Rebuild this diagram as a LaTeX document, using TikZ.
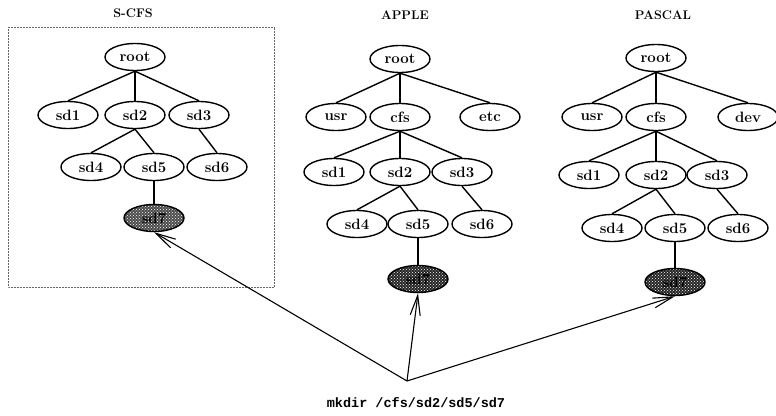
\documentclass[tikz,border=0pt]{standalone}
\usepackage{fontspec}
\setmonofont{Liberation Mono}
\usetikzlibrary{shapes.geometric,positioning,patterns,arrows.meta}

\begin{document}
\begin{tikzpicture}[x=1pt,y=-1pt,line width=1.4pt,node distance=55pt and 64pt,on grid,
  dir node/.style={ellipse,draw,minimum width=60pt,minimum height=27pt,inner sep=0pt,
    font=\fontsize{15}{17}\selectfont\bfseries},
  new node/.style={dir node,preaction={fill=black!85},pattern=crosshatch dots,pattern color=white},
  tree title/.style={font=\fontsize{12.5}{14}\selectfont\bfseries},
  cmd arrow/.style={line width=1.1pt,-{Straight Barb[length=20pt,width=10pt]}}]

  \useasboundingbox (0,0) rectangle (776,415);

  % S-CFS
  \node[tree title] (t1) at (133,13) {S-CFS};
  \draw[line width=0.5pt,black!60,densely dotted] (8,27) rectangle (274,287);
  \node[dir node] (s1) at (135,57) {root};
  \node[dir node] (s3) [below=58pt of s1] {sd2};
  \node[dir node] (s2) [left=67pt of s3] {sd1};
  \node[dir node] (s4) [right=of s3] {sd3};
  \node[dir node] (s6) [below right=52pt and 19pt of s3] {sd5};
  \node[dir node] (s5) [left=63pt of s6] {sd4};
  \node[dir node] (s7) [right=63pt of s6] {sd6};
  \node[new node,preaction={fill=black!70}] (s8) [below=51pt of s6] {sd7};

  \path (s1.south) edge (s2.north) edge (s3.north) edge (s4.north)
        (s3.south) edge (s5.north) edge (s6.north)
        (s4.south) edge (s7.north)
        (s6.south) edge (s8.north);

  % APPLE
  \node[tree title] (t2) at (405,15) {APPLE};
  \node[dir node] (a1) at (400,59) {root};
  \node[dir node] (a3) [below=58pt of a1] {cfs};
  \node[dir node] (a2) [left=of a3] {usr};
  \node[dir node] (a4) [right=90pt of a3] {etc};
  \node[dir node] (a6) [below=of a3] {sd2};
  \node[dir node] (a5) [left=66pt of a6] {sd1};
  \node[dir node] (a7) [right=62pt of a6] {sd3};
  \node[dir node] (a9) [below right=52pt and 18pt of a6] {sd5};
  \node[dir node] (a8) [left=61pt of a9] {sd4};
  \node[dir node] (a10) [right=of a9] {sd6};
  \node[new node] (a11) [below=of a9] {sd7};

  \path (a1.south) edge (a2.north) edge (a3.north) edge (a4.north)
        (a3.south) edge (a5.north) edge (a6.north) edge (a7.north)
        (a6.south) edge (a8.north) edge (a9.north)
        (a7.south) edge (a10.north)
        (a9.south) edge (a11.north);

  % PASCAL
  \node[tree title] (t3) at (663,15) {PASCAL};
  \node[dir node] (p1) at (656,58) {root};
  \node[dir node] (p3) [below=59pt of p1] {cfs};
  \node[dir node] (p2) [left=of p3] {usr};
  \node[dir node] (p4) [right=92pt of p3] {dev};
  \node[dir node] (p6) [below=58pt of p3] {sd2};
  \node[dir node] (p5) [left=67pt of p6] {sd1};
  \node[dir node] (p7) [right=61pt of p6] {sd3};
  \node[dir node] (p9) [below right=53pt and 19pt of p6] {sd5};
  \node[dir node] (p8) [left=63pt of p9] {sd4};
  \node[dir node] (p10) [right=63pt of p9] {sd6};
  \node[new node] (p11) [below=54pt of p9] {sd7};

  \path (p1.south) edge (p2.north) edge (p3.north) edge (p4.north)
        (p3.south) edge (p5.north) edge (p6.north) edge (p7.north)
        (p6.south) edge (p8.north) edge (p9.north)
        (p7.south) edge (p10.north)
        (p9.south) edge (p11.north);

  % the command and its three arrows
  \node[font=\fontsize{13.5}{16}\selectfont\ttfamily\bfseries] (cmd) at (416,403) {mkdir /cfs/sd2/sd5/sd7};
  \coordinate (fork) at (407,381);
  \draw[cmd arrow] (fork) -- (s8.south);
  \draw[cmd arrow] (fork) -- (a11.south);
  \draw[cmd arrow] (fork) -- (p11.south);

\end{tikzpicture}
\end{document}
